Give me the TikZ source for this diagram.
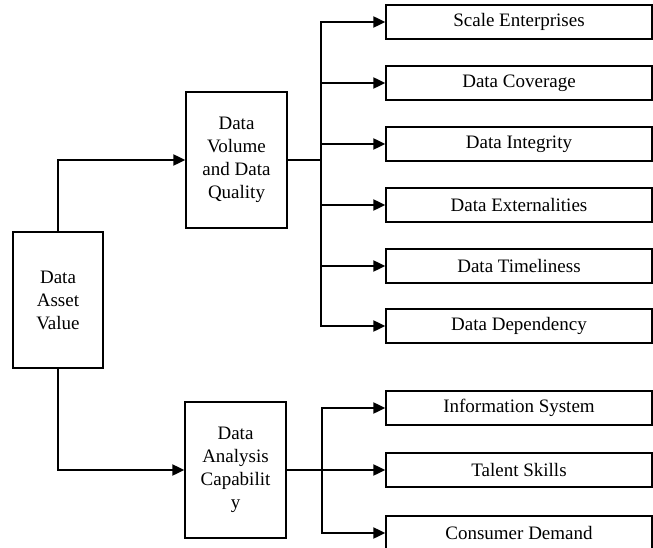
\documentclass[tikz,border=0pt]{standalone}
\usepackage{fontspec}
\setmainfont{Liberation Serif}
\usetikzlibrary{arrows.meta}

\begin{document}
\begin{tikzpicture}[x=1pt, y=-1pt, line cap=butt, line join=miter,
  box/.style={draw, line width=1.4pt, inner sep=0pt, align=center, font=\fontsize{19}{23}\selectfont},
  leaf/.style={box, minimum width=266pt, minimum height=34pt},
  stem/.style={box, minimum width=101pt, minimum height=136pt},
  link/.style={line width=2.2pt, -{Triangle[length=12pt,width=11pt]}},
  wire/.style={line width=2.2pt}]

  %% ════ 左侧三个竖框 ════
  \node[box, minimum width=90pt, minimum height=136pt] (dav) at (58,300) {Data\\Asset\\Value};
  \node[stem] (dvq) at (236.5,160) {Data\\Volume\\and Data\\Quality};
  \node[stem] (dac) at (235.5,470) {Data\\Analysis\\Capabilit\\y};

  %% ════ 右侧横框 ════
  \node[leaf] (se) at (519,22)  {Scale Enterprises};
  \node[leaf] (dc) at (519,83)  {Data Coverage};
  \node[leaf] (di) at (519,144) {Data Integrity};
  \node[leaf] (de) at (519,205) {Data Externalities};
  \node[leaf] (dt) at (519,266) {Data Timeliness};
  \node[leaf] (dd) at (519,326) {Data Dependency};

  \node[leaf] (is) at (519,408) {Information System};
  \node[leaf] (ts) at (519,470) {Talent Skills};
  \node[leaf] (cd) at (519,533) {Consumer Demand};

  %% ════ 分叉点 ════
  \coordinate (t1) at (321,160);
  \coordinate (t2) at (322,470);

  %% ════ 连线 ════
  \draw[link] (dav.north) |- (dvq.west);
  \draw[link] (dav.south) |- (dac.west);

  \draw[wire] (dvq.east) -- (t1);
  \draw[link] (t1) |- (se.west);
  \draw[link] (t1) |- (dc.west);
  \draw[link] (t1) |- (di.west);
  \draw[link] (t1) |- (de.west);
  \draw[link] (t1) |- (dt.west);
  \draw[link] (t1) |- (dd.west);

  \draw[link] (dac.east) -- (ts.west);
  \draw[link] (t2) |- (is.west);
  \draw[link] (t2) |- (cd.west);

  % 钉死画布
  \pgfresetboundingbox
  \path[use as bounding box] (0,0) rectangle (653,548);
\end{tikzpicture}
\end{document}
